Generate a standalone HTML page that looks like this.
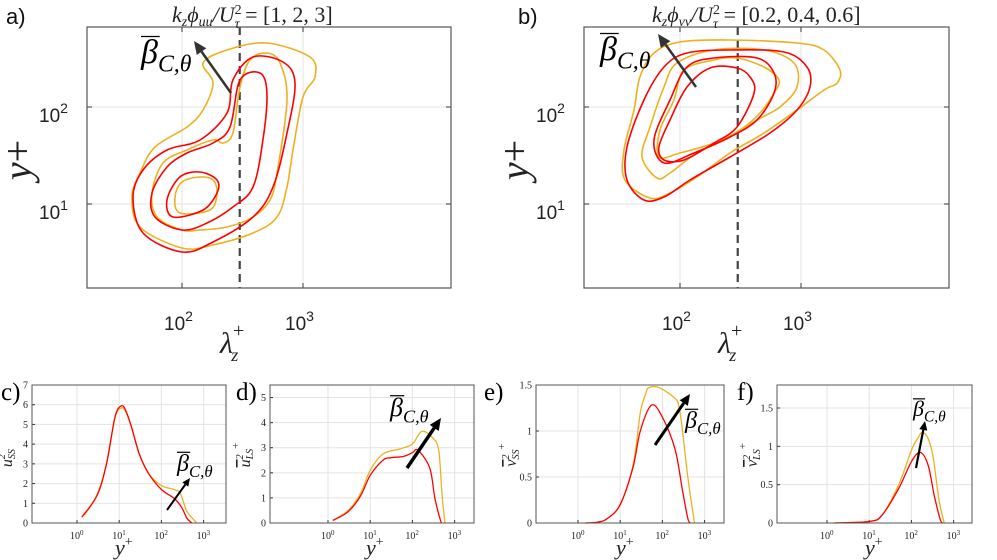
<!DOCTYPE html>
<html><head><meta charset="utf-8">
<style>
html,body{margin:0;padding:0;background:#fff;}
svg{display:block;}
.sans{font-family:"Liberation Sans",sans-serif;}
.serif{font-family:"Liberation Serif",serif;}
</style></head>
<body>
<svg id="fig" width="997" height="560" viewBox="0 0 997 560" xmlns="http://www.w3.org/2000/svg">
<g id="gA"></g>
<g id="gB"></g>
<g id="gC"></g>
<g id="gD"></g>
<g id="gE"></g>
<g id="gF"></g>
</svg>
<script>
// ---------- DATA: contours as [log10(lambda_z+), log10(y+)] ----------
const uuOrange1 = [[2.0,0.546],[1.653,0.763],[1.587,1.072],[1.653,1.320],[1.777,1.588],[2.041,1.794],[2.174,1.969],[2.256,2.247],[2.174,2.454],[2.372,2.588],[2.702,2.660],[3.058,2.515],[3.099,2.309],[3.0,2.103],[2.917,1.557],[2.868,1.175],[2.785,0.866],[2.587,0.701],[2.256,0.577]];
const uuRed1 = [[2.0,0.505],[1.678,0.701],[1.595,1.072],[1.678,1.351],[1.876,1.557],[2.149,1.660],[2.372,1.938],[2.421,2.278],[2.587,2.515],[2.835,2.464],[2.934,2.247],[2.868,1.732],[2.752,1.175],[2.587,0.866],[2.256,0.608]];
const uuOrange2 = [[2.0,0.732],[1.793,0.866],[1.752,1.113],[1.843,1.423],[2.041,1.557],[2.256,1.660],[2.339,1.629],[2.421,1.732],[2.479,2.206],[2.562,2.485],[2.702,2.557],[2.810,2.454],[2.868,2.072],[2.785,1.320],[2.727,1.041],[2.587,0.866],[2.372,0.763],[2.149,0.732]];
const uuRed2 = [[2.0,0.732],[1.777,0.866],[1.752,1.113],[1.876,1.381],[2.041,1.526],[2.256,1.629],[2.397,1.794],[2.479,2.278],[2.645,2.351],[2.702,2.144],[2.669,1.660],[2.587,1.175],[2.421,0.969],[2.207,0.804]];
const uuRed3 = [[1.926,0.866],[1.876,1.041],[1.983,1.278],[2.149,1.330],[2.289,1.247],[2.289,1.113],[2.174,0.938]];
const uuOrange3 = [[1.983,0.907],[1.942,1.072],[2.0,1.227],[2.149,1.278],[2.256,1.247],[2.289,1.113],[2.231,0.938]];

const vvOrange1 = [[1.752,1.062],[1.545,1.247],[1.537,1.557],[1.620,1.969],[1.669,2.309],[1.785,2.557],[2.0,2.670],[2.413,2.691],[2.967,2.660],[3.190,2.588],[3.322,2.381],[3.298,2.247],[3.190,2.175],[2.967,1.969],[2.694,1.732],[2.413,1.526],[2.140,1.278],[1.917,1.113]];
const vvRed1 = [[1.702,1.041],[1.562,1.247],[1.562,1.588],[1.702,2.072],[1.868,2.412],[2.058,2.557],[2.413,2.588],[2.860,2.567],[3.050,2.412],[3.074,2.206],[2.967,1.969],[2.744,1.732],[2.413,1.485],[2.083,1.247],[1.868,1.072]];
const vvOrange2 = [[1.810,1.268],[1.686,1.485],[1.752,1.794],[1.868,2.206],[1.975,2.454],[2.281,2.588],[2.694,2.588],[2.942,2.454],[2.967,2.206],[2.826,2.0],[2.636,1.866],[2.413,1.691],[2.140,1.526],[1.917,1.320]];
const vvRed2 = [[1.868,1.423],[1.785,1.660],[1.917,2.072],[2.058,2.412],[2.281,2.505],[2.636,2.505],[2.777,2.351],[2.777,2.144],[2.636,1.866],[2.413,1.691],[2.116,1.526]];
const vvOrange3 = [[1.826,1.485],[1.835,1.763],[1.950,2.072],[2.033,2.381],[2.281,2.485],[2.471,2.505],[2.694,2.412],[2.818,2.278],[2.777,2.144],[2.661,1.938],[2.496,1.763],[2.281,1.629],[2.0,1.526]];
const vvRed3 = [[1.868,1.454],[1.826,1.588],[1.917,1.866],[2.058,2.206],[2.248,2.402],[2.471,2.402],[2.579,2.309],[2.612,2.144],[2.471,1.794],[2.281,1.629],[2.033,1.454]];

const dashedLambda = 300;

// ---------- DATA: profiles ----------
const cYpRed = [1.3,3,5,8,11.5,15,20,30,50,100,200,300,400,525];
const cValRed = [0.3,1.4,3.0,5.4,5.95,5.6,4.8,3.5,2.5,1.7,1.25,0.8,0.25,0];
const cYpOr = [1.5,3,5,8,11.5,15,20,30,50,100,200,280,400,690];
const cValOr = [0.4,1.45,3.0,5.35,5.85,5.55,4.8,3.5,2.5,1.9,1.7,1.5,0.6,0];

const dYpRed = [1.3,3,6,10,20,30,60,100,135,257,339,445,490];
const dValRed = [0.1,0.45,1.1,1.9,2.5,2.6,2.65,2.8,2.9,2.2,1.0,0.2,0];
const dYpOr = [1.3,3,6,10,20,50,100,166,300,420,500,590];
const dValOr = [0.1,0.5,1.2,2.1,2.75,2.95,3.15,3.65,3.4,2.9,1.2,0];

const eYpRed = [1.5,3,5,10,20,30,55,100,200,300,400,465];
const eValRed = [0,0.01,0.05,0.2,0.6,1.0,1.28,1.15,0.8,0.35,0.05,0];
const eYpOr = [1.5,3,5,10,20,30,40,47,85,204,250,300,400,575];
const eValOr = [0,0.01,0.05,0.2,0.62,1.2,1.4,1.47,1.47,1.35,1.25,1.0,0.5,0];

const fYpRed = [1.5,10,20,50,100,163,250,350,480,550];
const fValRed = [0,0.02,0.1,0.45,0.8,0.92,0.75,0.35,0.05,0];
const fYpOr = [1.5,10,20,50,100,140,180,250,330,450,600];
const fValOr = [0,0.02,0.1,0.5,0.95,1.1,1.18,1.1,0.85,0.3,0];

const cTicks = [0,1,2,3,4,5,6,7];
const dTicks = [0,1,2,3,4,5];
const eTicks = [0,0.5,1,1.5];
const fTicks = [0,0.5,1,1.5];
const xDecades = [0,1,2,3];

const RED = "#ff0000", ORG = "#edb120";
const NS = "http://www.w3.org/2000/svg";
function mk(parent, tag, attrs){ const e=document.createElementNS(NS,tag); for(const k in attrs) e.setAttribute(k,attrs[k]); parent.appendChild(e); return e; }

function closedPath(pts){
  const n=pts.length; let d=`M${pts[0][0].toFixed(1)},${pts[0][1].toFixed(1)}`;
  for(let i=0;i<n;i++){
    const p0=pts[(i-1+n)%n],p1=pts[i],p2=pts[(i+1)%n],p3=pts[(i+2)%n];
    const c1=[p1[0]+(p2[0]-p0[0])/6,p1[1]+(p2[1]-p0[1])/6];
    const c2=[p2[0]-(p3[0]-p1[0])/6,p2[1]-(p3[1]-p1[1])/6];
    d+=`C${c1[0].toFixed(1)},${c1[1].toFixed(1)} ${c2[0].toFixed(1)},${c2[1].toFixed(1)} ${p2[0].toFixed(1)},${p2[1].toFixed(1)}`;
  }
  return d+"Z";
}
function openPath(pts){
  let d=`M${pts[0][0].toFixed(1)},${pts[0][1].toFixed(1)}`;
  for(let i=0;i<pts.length-1;i++){
    const p0=pts[Math.max(i-1,0)],p1=pts[i],p2=pts[i+1],p3=pts[Math.min(i+2,pts.length-1)];
    const c1=[p1[0]+(p2[0]-p0[0])/6,p1[1]+(p2[1]-p0[1])/6];
    const c2=[p2[0]-(p3[0]-p1[0])/6,p2[1]-(p3[1]-p1[1])/6];
    d+=`C${c1[0].toFixed(1)},${c1[1].toFixed(1)} ${c2[0].toFixed(1)},${c2[1].toFixed(1)} ${p2[0].toFixed(1)},${p2[1].toFixed(1)}`;
  }
  return d;
}
function arrow(g, x1,y1,x2,y2, color, w, head, name){
  const a=mk(g,"g",{});
  
  
  const dx=x2-x1, dy=y2-y1, L=Math.hypot(dx,dy), ux=dx/L, uy=dy/L;
  const bx=x2-ux*head, by=y2-uy*head;
  mk(a,"line",{x1:x1,y1:y1,x2:bx,y2:by,stroke:color,"stroke-width":w});
  const px=-uy*head*0.45, py=ux*head*0.45;
  mk(a,"polygon",{points:`${x2},${y2} ${bx+px},${by+py} ${bx-px},${by-py}`,fill:color});
}
function beta(g,x,y,size,name){
  const t=mk(g,"text",{x:x,y:y,"font-size":size,class:"serif","font-style":"italic",fill:"#000"});
  
  
  t.innerHTML=`β<tspan font-size="${size*0.7}" dy="${size*0.25}">C,θ</tspan>`;
  const bb=size*0.55;
  mk(g,"line",{x1:x,y1:y-size*0.78,x2:x+bb,y2:y-size*0.78,stroke:"#000","stroke-width":1.2});
}
function titleHtml(sub, vals){
  return `<tspan font-style="italic" y="22">k</tspan><tspan font-style="italic" font-size="14" y="26">z</tspan><tspan font-style="italic" y="22">ϕ</tspan><tspan font-style="italic" font-size="14" y="26">${sub}</tspan><tspan font-style="italic" y="22">/U</tspan><tspan font-size="14" y="14">2</tspan><tspan font-size="14" font-style="italic" dx="-7" y="28">τ</tspan><tspan y="22"> = ${vals}</tspan>`;
}

// ---------- Top contour panels ----------
function contourPanel(g, cfg){
  const X=lx=>cfg.x100+(lx-2)*121, Y=ly=>cfg.y100-(ly-2)*97;
  const box={l:cfg.l,r:cfg.r,t:27,b:288};
  mk(g,"rect",{x:box.l,y:box.t,width:box.r-box.l,height:box.b-box.t,fill:"#fff"});
  [2,3].forEach(d=>{ const gl=mk(g,"line",{x1:X(d),x2:X(d),y1:box.t,y2:box.b,stroke:"#e3e3e3","stroke-width":1});  });
  [1,2].forEach(d=>{ const gl=mk(g,"line",{x1:box.l,x2:box.r,y1:Y(d),y2:Y(d),stroke:"#e3e3e3","stroke-width":1});  });
  [2,3].forEach(d=>{
    mk(g,"line",{x1:X(d),x2:X(d),y1:box.b,y2:box.b-5,stroke:"#333"});
    mk(g,"line",{x1:X(d),x2:X(d),y1:box.t,y2:box.t+5,stroke:"#333"});
    const t=mk(g,"text",{x:X(d)-18,y:330,"font-size":19,class:"sans",fill:"#222"});
    
    
    t.innerHTML=`10<tspan font-size="14" dy="-9">${d}</tspan>`;
  });
  [1,2].forEach(d=>{
    mk(g,"line",{x1:box.l,x2:box.l+5,y1:Y(d),y2:Y(d),stroke:"#333"});
    mk(g,"line",{x1:box.r,x2:box.r-5,y1:Y(d),y2:Y(d),stroke:"#333"});
    const t=mk(g,"text",{x:box.l-48,y:Y(d)+15,"font-size":19,class:"sans",fill:"#222"});
    
    
    t.innerHTML=`10<tspan font-size="14" dy="-9">${d}</tspan>`;
  });
  const xd=X(Math.log10(dashedLambda));
  const dl=mk(g,"line",{x1:xd,x2:xd,y1:box.t,y2:box.b,stroke:"#444","stroke-width":2.2,"stroke-dasharray":"8,5"});
  
  
  cfg.contours.forEach(c=>{
    const p=mk(g,"path",{d:closedPath(c.pts.map(q=>[X(q[0]),Y(q[1])])),fill:"none",stroke:c.col,"stroke-width":1.6});
    
    
  });
  mk(g,"rect",{x:box.l,y:box.t,width:box.r-box.l,height:box.b-box.t,fill:"none",stroke:"#555","stroke-width":1.2});
  arrow(g,cfg.arr[0],cfg.arr[1],cfg.arr[2],cfg.arr[3],"#333",2.5,13,"beta-arrow");
  beta(g,cfg.beta[0],cfg.beta[1],34,"beta-label");
  const tl=mk(g,"text",{x:cfg.title[0],y:22,"font-size":22,class:"serif",fill:"#222"});
  
  
  tl.innerHTML=cfg.titleHtml;
  const pl=mk(g,"text",{x:cfg.plabel,y:24,"font-size":22,class:"sans",fill:"#111"});
  
  
  pl.textContent=cfg.letter;
  const yl=mk(g,"text",{x:0,y:0,"font-size":40,class:"serif","font-style":"italic",fill:"#222",transform:`translate(${box.l-56},${160}) rotate(-90)`,"text-anchor":"middle"});
  
  
  yl.innerHTML=`y<tspan font-style="normal">+</tspan>`;
  const xl=mk(g,"text",{x:cfg.x100+38,y:353,"font-size":30,class:"serif","font-style":"italic",fill:"#222"});
  
  
  xl.innerHTML=`λ<tspan font-size="20" font-style="normal" dy="-16">+</tspan><tspan font-size="18" dx="-13" dy="24">z</tspan>`;
}
contourPanel(document.getElementById("gA"),{
  l:87,r:451,x100:182,y100:107,arr:[231,93,194,41],beta:[141,63],title:[172],plabel:6,letter:"a)",
  titleHtml:titleHtml("uu","[1, 2, 3]"),
  contours:[{pts:uuOrange1,col:ORG,name:"contour-orange-1"},{pts:uuOrange2,col:ORG,name:"contour-orange-2"},{pts:uuOrange3,col:ORG,name:"contour-orange-3"},
            {pts:uuRed1,col:RED,name:"contour-red-1"},{pts:uuRed2,col:RED,name:"contour-red-2"},{pts:uuRed3,col:RED,name:"contour-red-3"}]
});
contourPanel(document.getElementById("gB"),{
  l:584,r:949,x100:680,y100:107,arr:[696,87,658,34],beta:[600,60],title:[652],plabel:518,letter:"b)",
  titleHtml:titleHtml("vv","[0.2, 0.4, 0.6]"),
  contours:[{pts:vvOrange1,col:ORG,name:"contour-orange-1"},{pts:vvOrange2,col:ORG,name:"contour-orange-2"},{pts:vvOrange3,col:ORG,name:"contour-orange-3"},
            {pts:vvRed1,col:RED,name:"contour-red-1"},{pts:vvRed2,col:RED,name:"contour-red-2"},{pts:vvRed3,col:RED,name:"contour-red-3"}]
});

// ---------- Bottom profile panels ----------
function profilePanel(g,cfg){
  const t=385,b=523, dec=42.2;
  const X=yp=>cfg.x0+Math.log10(yp)*dec, Y=v=>b-(v/cfg.ymax)*(b-t);
  mk(g,"rect",{x:cfg.l,y:t,width:cfg.r-cfg.l,height:b-t,fill:"#fff"});
  xDecades.forEach(d=>{
    const gl=mk(g,"line",{x1:cfg.x0+d*dec,x2:cfg.x0+d*dec,y1:t,y2:b,stroke:"#e3e3e3"});
     
    mk(g,"line",{x1:cfg.x0+d*dec,x2:cfg.x0+d*dec,y1:b,y2:b-3,stroke:"#333"});
    const tx=mk(g,"text",{x:cfg.x0+d*dec-7,y:b+16,"font-size":10,class:"serif",fill:"#222"});
     
    tx.innerHTML=`10<tspan font-size="7" dy="-4">${d}</tspan>`;
  });
  cfg.ticks.forEach(v=>{
    if(v>0){const gl=mk(g,"line",{x1:cfg.l,x2:cfg.r,y1:Y(v),y2:Y(v),stroke:"#e3e3e3"});  }
    mk(g,"line",{x1:cfg.l,x2:cfg.l+3,y1:Y(v),y2:Y(v),stroke:"#333"});
    const tx=mk(g,"text",{x:cfg.l-4,y:Y(v)+3.5,"font-size":10,class:"serif",fill:"#222","text-anchor":"end"});
     
    tx.textContent=String(v);
  });
  const pr=mk(g,"path",{d:openPath(cfg.ypO.map((y,i)=>[X(y),Y(cfg.vO[i])])),fill:"none",stroke:ORG,"stroke-width":1.3});
   
  const pr2=mk(g,"path",{d:openPath(cfg.ypR.map((y,i)=>[X(y),Y(cfg.vR[i])])),fill:"none",stroke:RED,"stroke-width":1.3});
   
  mk(g,"rect",{x:cfg.l,y:t,width:cfg.r-cfg.l,height:b-t,fill:"none",stroke:"#555","stroke-width":1});
  arrow(g,cfg.arr[0],cfg.arr[1],cfg.arr[2],cfg.arr[3],"#000",cfg.aw,cfg.ah,"beta-arrow");
  beta(g,cfg.beta[0],cfg.beta[1],cfg.bs,"beta-label");
  const pl=mk(g,"text",{x:cfg.plx,y:400,"font-size":25,class:"serif",fill:"#000"});
   
  pl.textContent=cfg.letter;
  const xl=mk(g,"text",{x:cfg.x0+38,y:555,"font-size":22,class:"serif","font-style":"italic",fill:"#222"});
   
  xl.innerHTML=`y<tspan font-size="14" font-style="normal" dy="-9">+</tspan>`;
  const yl=mk(g,"text",{x:0,y:0,"font-size":16,class:"serif","font-style":"italic",fill:"#222",transform:`translate(${cfg.l-20},455) rotate(-90)`,"text-anchor":"middle"});
   
  yl.innerHTML=`<tspan text-decoration="overline">${cfg.v}</tspan><tspan font-size="10" dy="-7">2</tspan><tspan font-size="10" dx="-5" dy="10">${cfg.sub}</tspan><tspan font-size="11" font-style="normal" dy="-14">+</tspan>`;
}
profilePanel(document.getElementById("gC"),{l:32,r:226,x0:77,ymax:7,ticks:cTicks,ypR:cYpRed,vR:cValRed,ypO:cYpOr,vO:cValOr,
  arr:[167,510,190,478],aw:2,ah:8,beta:[177,471],bs:24,plx:1,letter:"c)",v:"u",sub:"SS"});
profilePanel(document.getElementById("gD"),{l:270,r:474,x0:328,ymax:5.5,ticks:dTicks,ypR:dYpRed,vR:dValRed,ypO:dYpOr,vO:dValOr,
  arr:[407,468,441,418],aw:3.5,ah:12,beta:[390,416],bs:26,plx:236,letter:"d)",v:"u",sub:"LS"});
profilePanel(document.getElementById("gE"),{l:536,r:724,x0:578,ymax:1.5,ticks:eTicks,ypR:eYpRed,vR:eValRed,ypO:eYpOr,vO:eValOr,
  arr:[655,445,690,394],aw:3,ah:11,beta:[685,428],bs:24,plx:484,letter:"e)",v:"v",sub:"SS"});
profilePanel(document.getElementById("gF"),{l:777,r:972,x0:827,ymax:1.8,ticks:fTicks,ypR:fYpRed,vR:fValRed,ypO:fYpOr,vO:fValOr,
  arr:[916,468,925,421],aw:2.2,ah:9,beta:[913,416],bs:22,plx:737,letter:"f)",v:"v",sub:"LS"});
</script>
</body></html>
